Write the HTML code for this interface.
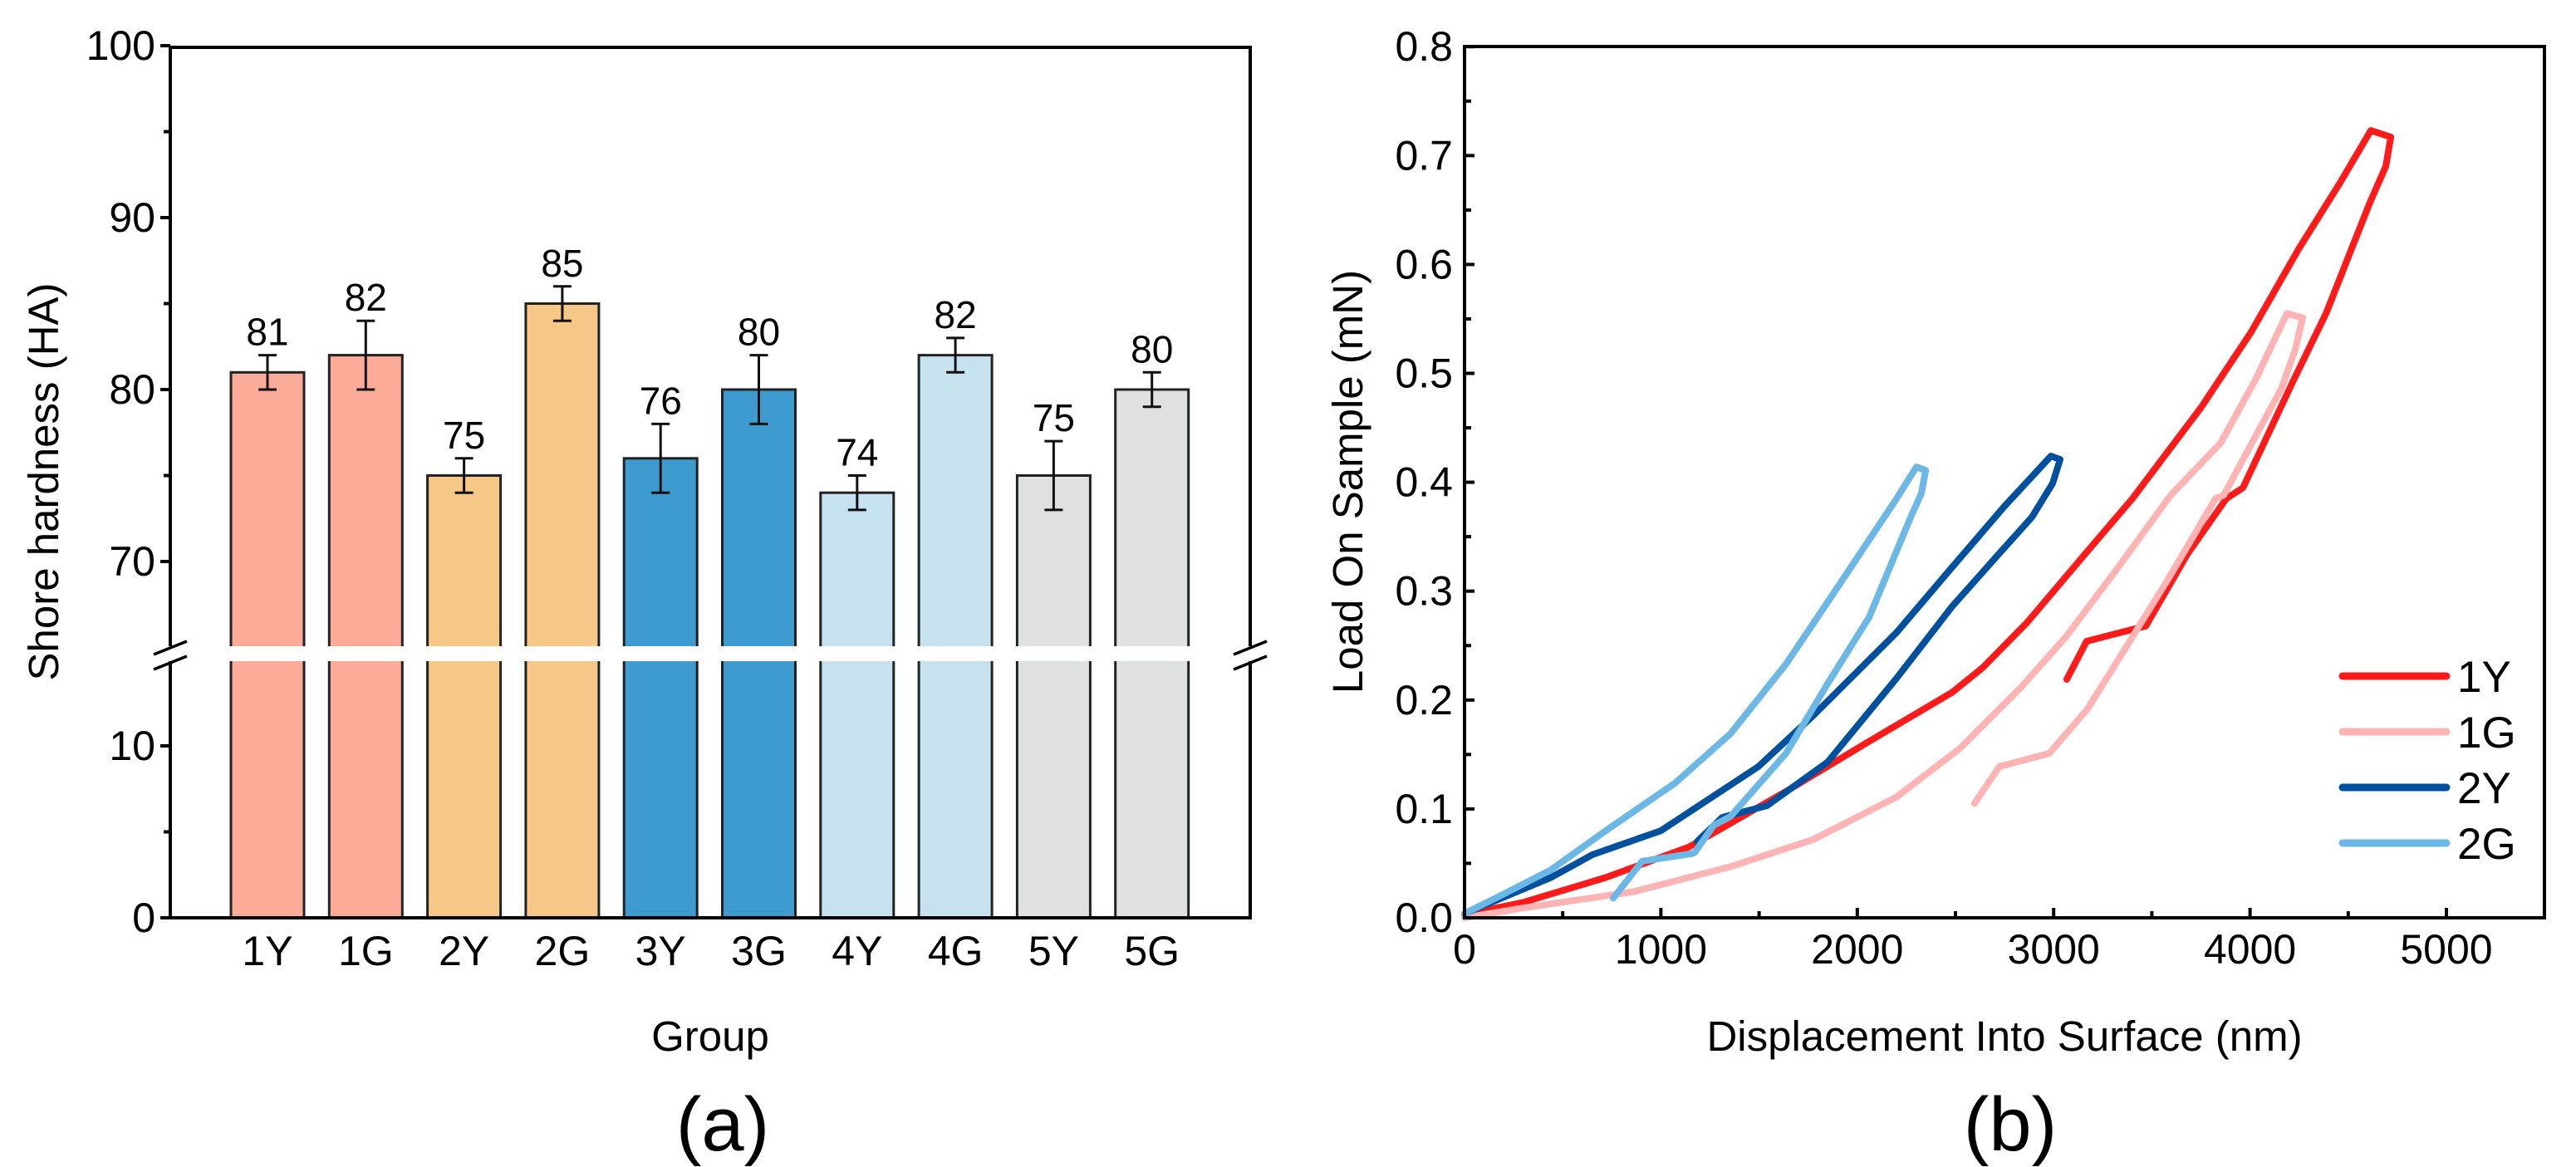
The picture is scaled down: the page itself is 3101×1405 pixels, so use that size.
<!DOCTYPE html>
<html><head><meta charset="utf-8"><style>
html,body{margin:0;padding:0;background:#fff}
svg{display:block}
text{font-family:"Liberation Sans",Arial,sans-serif;fill:#000}
</style></head><body>
<svg id="fig" width="3101" height="1405" viewBox="0 0 3101 1405" xmlns="http://www.w3.org/2000/svg">
<g id="chartA"></g>
<g id="chartB"></g>
</svg>
<script>
// ---- Chart (a) data ----
const categories = ["1Y","1G","2Y","2G","3Y","3G","4Y","4G","5Y","5G"];
const hardness = [81,82,75,85,76,80,74,82,75,80];
const errLow = [80,80,74,84,74,78,73,81,73,79];
const errHigh = [82,84,76,86,78,82,75,83,77,81];
const barColors = ["#FBAB98","#FBAB98","#F6C887","#F6C887","#3D9BCF","#3D9BCF","#C6E2EF","#C6E2EF","#DFE0E0","#DFE0E0"];
const upperTicks = [70,80,90,100];
const lowerTicks = [0,10];

// ---- Chart (b) data ----
const seriesNames = ["1Y","1G","2Y","2G"];
const seriesColors = ["#FF1A1A","#FFB3B3","#0050A0","#6BB8E6"];
const disp1Y = [0,296,719,1142,1637,2060,2483,2640,2864,3160,3401,3752,4006,4247,4458,4615,4717,4691,4611,4527,4387,4217,3964,3879,3681,3469,3168,3067];
const load1Y = [0.003,0.014,0.037,0.065,0.116,0.162,0.207,0.230,0.271,0.334,0.385,0.469,0.538,0.614,0.675,0.723,0.717,0.690,0.657,0.619,0.555,0.492,0.395,0.385,0.334,0.268,0.254,0.219];
const disp1G = [0,296,863,1354,1777,2200,2272,2525,2835,3062,3329,3583,3596,3850,4030,4188,4268,4230,4162,3866,3824,3583,3384,3173,2978,2724,2597];
const load1G = [0,0.009,0.024,0.047,0.072,0.111,0.121,0.156,0.212,0.258,0.322,0.385,0.388,0.436,0.495,0.555,0.551,0.522,0.487,0.388,0.385,0.311,0.253,0.192,0.151,0.139,0.105];
const disp2Y = [0,440,651,1000,1497,1777,2200,2483,2750,2986,3033,2995,2889,2700,2483,2200,1849,1540,1328,1311,1184];
const load2Y = [0.004,0.037,0.058,0.080,0.139,0.186,0.262,0.322,0.378,0.424,0.421,0.399,0.368,0.330,0.286,0.220,0.143,0.103,0.093,0.092,0.070];
const disp2G = [0,157,440,719,1074,1354,1637,1920,2200,2301,2348,2327,2272,2060,1849,1637,1354,1269,1172,1159,905,757];
const load2G = [0.004,0.018,0.044,0.080,0.124,0.169,0.233,0.309,0.385,0.414,0.411,0.390,0.368,0.276,0.215,0.151,0.093,0.085,0.060,0.059,0.052,0.018];
const xTicks = [0,1000,2000,3000,4000,5000];
const yTicks = [0,0.1,0.2,0.3,0.4,0.5,0.6,0.7,0.8];

const NS="http://www.w3.org/2000/svg";
function mk(parent,tag,attrs,txt){const e=document.createElementNS(NS,tag);for(const k in attrs)e.setAttribute(k,attrs[k]);if(txt!==undefined)e.textContent=txt;parent.appendChild(e);return e;}

// ===== Chart A =====
const A=document.getElementById('chartA');
const aL=205,aR=1505,aTop=57,aBot=1105,breakTop=778,breakBot=796;
const upPx=20.7;
function yA(v){return v>=40? 469-(v-80)*upPx : aBot - v*20.7;}
const step=118.3, firstC=322, barW=88;
function xA(i){return firstC+i*step;}
categories.forEach((c,i)=>{
  const x=xA(i)-barW/2, y=yA(hardness[i]);
  const r=mk(A,'rect',{x:x,y:y,width:barW,height:aBot-y,fill:barColors[i],stroke:'#222',['stroke-width']:3});
  
  
  const eb=mk(A,'path',{d:`M${xA(i)} ${yA(errLow[i])}V${yA(errHigh[i])}M${xA(i)-11} ${yA(errLow[i])}h22M${xA(i)-11} ${yA(errHigh[i])}h22`,stroke:'#111',['stroke-width']:3,fill:'none'});
  
  
  const vl=mk(A,'text',{x:xA(i),y:yA(errHigh[i])-12,['text-anchor']:'middle',['font-size']:46},String(hardness[i]));
  
  
  const cl=mk(A,'text',{x:xA(i),y:1162,['text-anchor']:'middle',['font-size']:50},c);
  
  
});
const band=mk(A,'rect',{x:aL+3,y:breakTop,width:aR-aL-6,height:breakBot-breakTop,fill:'#fff'});


const frame=mk(A,'path',{d:`M${aL} ${breakTop}V${aTop}H${aR}V${breakTop}M${aL} ${breakBot}V${aBot}H${aR}V${breakBot}`,stroke:'#000',['stroke-width']:4,fill:'none'});


[aL,aR].forEach(x=>{
  const s=mk(A,'path',{d:`M${x-20} ${breakTop+10}L${x+20} ${breakTop-6}M${x-20} ${breakBot+10}L${x+20} ${breakBot-6}`,stroke:'#000',['stroke-width']:3.5});
  
  
});
upperTicks.concat(lowerTicks).forEach(v=>{
  const y=yA(v);
  const t=mk(A,'line',{x1:aL-12,x2:aL,y1:y,y2:y,stroke:'#000',['stroke-width']:4});
  
  
  const l=mk(A,'text',{x:aL-18,y:y+17,['text-anchor']:'end',['font-size']:50},String(v));
  
  
});
[75,85,95,5].forEach(v=>{
  const y=yA(v);
  const t=mk(A,'line',{x1:aL-8,x2:aL,y1:y,y2:y,stroke:'#000',['stroke-width']:4});
  
  
});
const ytA=mk(A,'text',{x:0,y:0,transform:'translate(70,580) rotate(-90)',['text-anchor']:'middle',['font-size']:51},'Shore hardness (HA)');


const xtA=mk(A,'text',{x:855,y:1265,['text-anchor']:'middle',['font-size']:51},'Group');


const capA=mk(A,'text',{x:870,y:1385,['text-anchor']:'middle',['font-size']:92},'(a)');



// ===== Chart B =====
const B=document.getElementById('chartB');
const bL=1763,bR=3063,bTop=56,bBot=1105;
function xB(v){return bL+v*0.2364;}
function yB(v){return bBot-v*1311;}
const dispAll=[disp1Y,disp1G,disp2Y,disp2G], loadAll=[load1Y,load1G,load2Y,load2G];
seriesNames.forEach((n,s)=>{
  const d=dispAll[s].map((x,i)=>(i?'L':'M')+xB(x).toFixed(1)+' '+yB(loadAll[s][i]).toFixed(1)).join('');
  const p=mk(B,'path',{d:d,stroke:seriesColors[s],['stroke-width']:8,fill:'none',['stroke-linejoin']:'round',['stroke-linecap']:'round'});
  
  
});
const frameB=mk(B,'rect',{x:bL,y:bTop,width:bR-bL,height:bBot-bTop,fill:'none',stroke:'#000',['stroke-width']:4});


xTicks.forEach(v=>{
  const x=xB(v);
  const t=mk(B,'line',{x1:x,x2:x,y1:bBot,y2:bBot-12,stroke:'#000',['stroke-width']:4});
  
  
  const l=mk(B,'text',{x:x,y:1160,['text-anchor']:'middle',['font-size']:50},String(v));
  
  
});
[500,1500,2500,3500,4500].forEach(v=>{
  const x=xB(v);
  const t=mk(B,'line',{x1:x,x2:x,y1:bBot,y2:bBot-8,stroke:'#000',['stroke-width']:4});
  
  
});
yTicks.forEach(v=>{
  const y=yB(v);
  const t=mk(B,'line',{x1:bL,x2:bL+12,y1:y,y2:y,stroke:'#000',['stroke-width']:4});
  
  
  const l=mk(B,'text',{x:bL-14,y:y+17,['text-anchor']:'end',['font-size']:50},v.toFixed(1));
  
  
  if(v<0.8){
    const m=mk(B,'line',{x1:bL,x2:bL+8,y1:yB(v+0.05),y2:yB(v+0.05),stroke:'#000',['stroke-width']:4});
    
    
  }
});
seriesNames.forEach((n,s)=>{
  const y=814+s*67;
  const g=mk(B,'g',{});
  
  
  mk(g,'line',{x1:2820,x2:2945,y1:y,y2:y,stroke:seriesColors[s],['stroke-width']:9,['stroke-linecap']:'round'});
  mk(g,'text',{x:2958,y:y+19,['font-size']:53},n);
});
const ytB=mk(B,'text',{x:0,y:0,transform:'translate(1640,580) rotate(-90)',['text-anchor']:'middle',['font-size']:51},'Load On Sample (mN)');


const xtB=mk(B,'text',{x:2413,y:1265,['text-anchor']:'middle',['font-size']:51},'Displacement Into Surface (nm)');


const capB=mk(B,'text',{x:2420,y:1385,['text-anchor']:'middle',['font-size']:92},'(b)');


</script>
</body></html>
